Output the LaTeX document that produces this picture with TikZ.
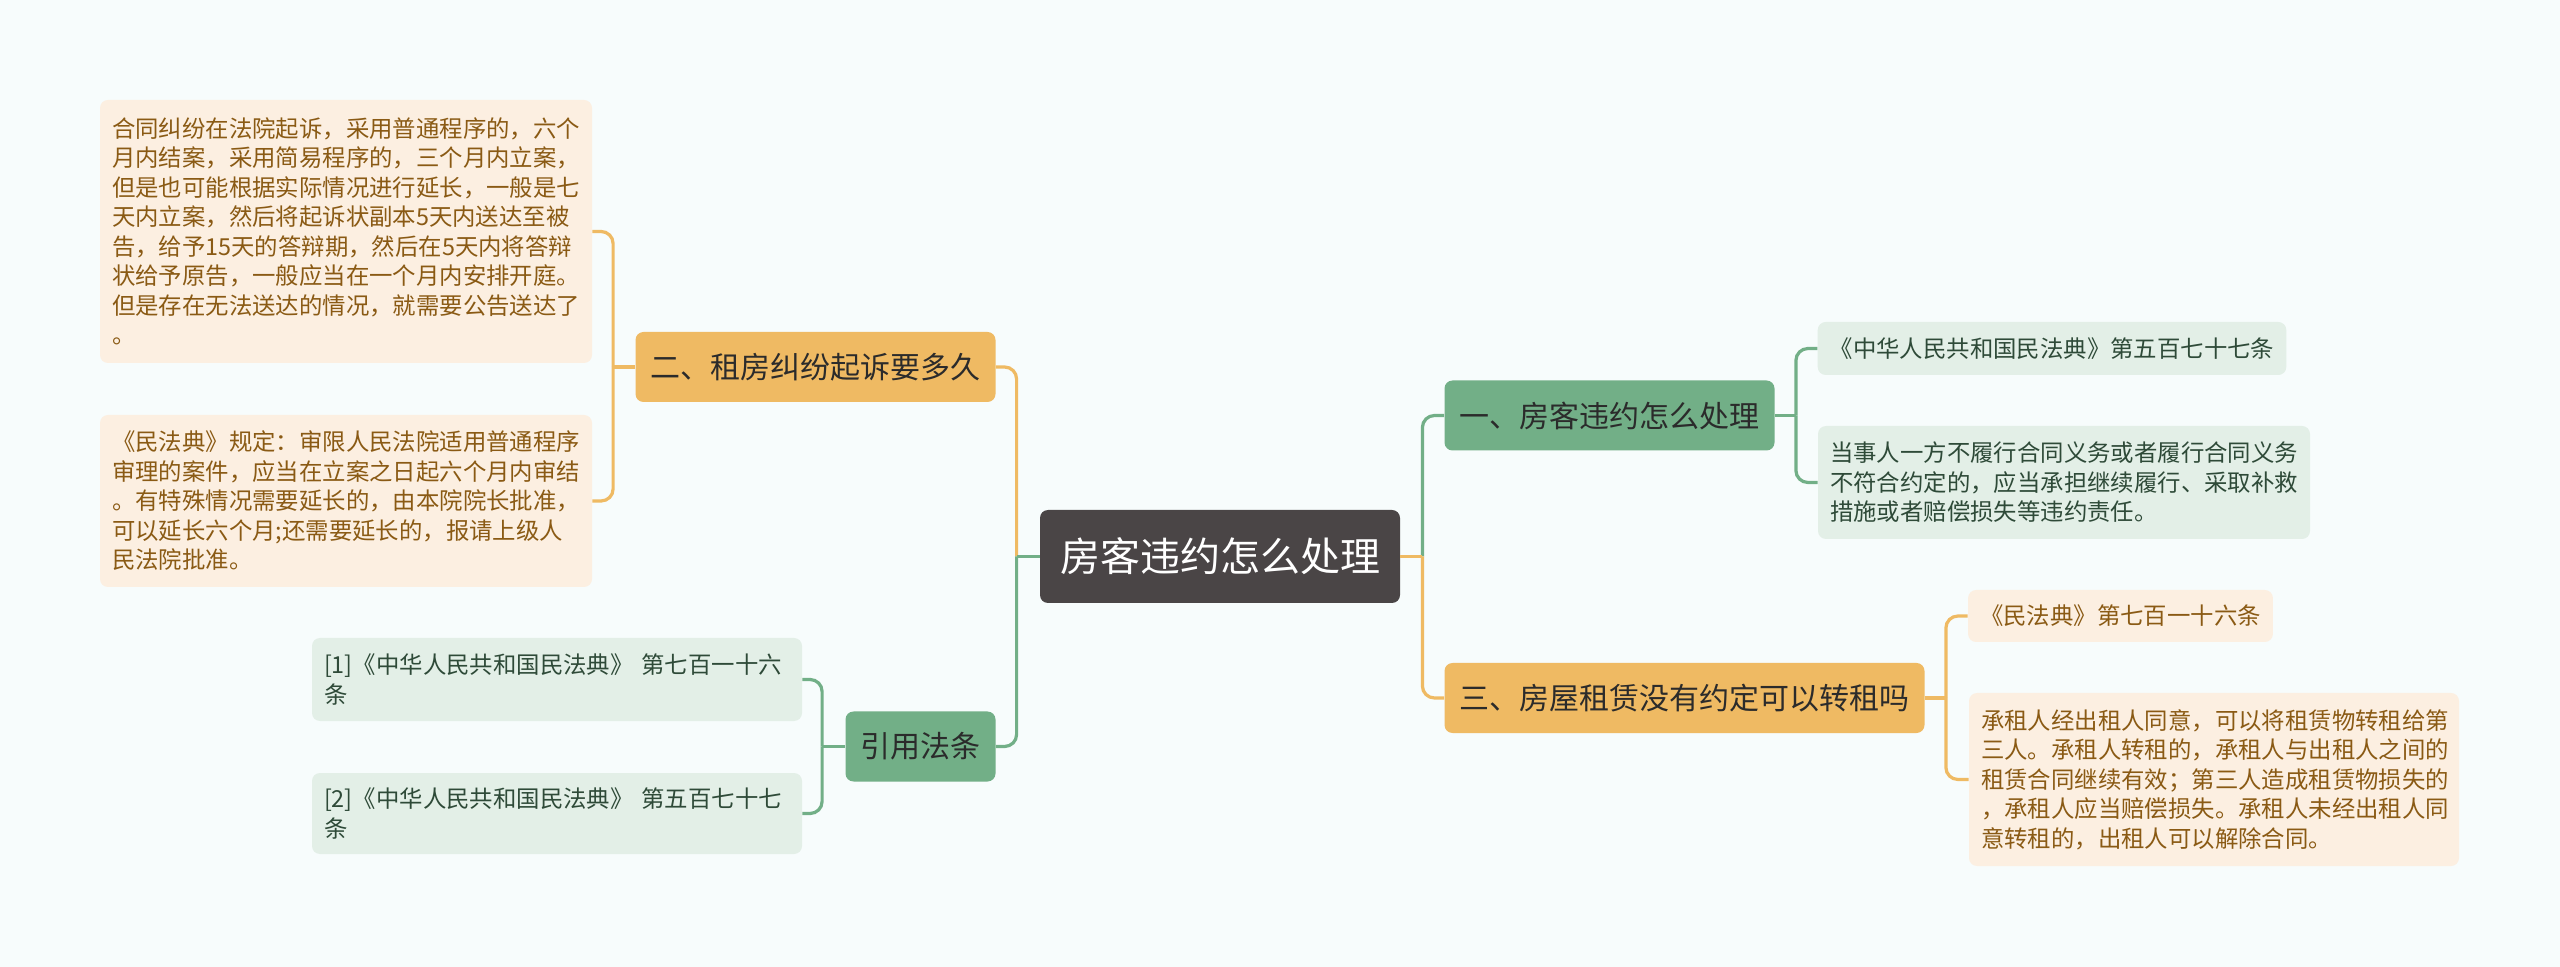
\documentclass[tikz,border=0pt]{standalone}
\usepackage{fontspec}
\setmainfont{Noto Sans CJK SC}
\usepackage{xcolor}
\definecolor{mmbg}{HTML}{F7FCFC}
\definecolor{mmroot}{HTML}{4A4546}
\definecolor{mmdark}{HTML}{2B2B2B}
\definecolor{mmgreen}{HTML}{72AF87}
\definecolor{mmgreenlt}{HTML}{E3EFE7}
\definecolor{mmgreentx}{HTML}{2E4A38}
\definecolor{mmorange}{HTML}{EFBA63}
\definecolor{mmorangelt}{HTML}{FCEFE1}
\definecolor{mmorangetx}{HTML}{8A5A14}
\usepackage{tikz}
\usetikzlibrary{positioning}
\tikzset{
  rootbox/.style={
    fill=mmroot, text=white, rounded corners=4pt,
    minimum height=46.5pt, inner xsep=10pt,
    font=\fontsize{20pt}{24pt}\selectfont
  },
  branchbox/.style={
    fill=#1, text=mmdark, rounded corners=4pt,
    minimum height=35pt, inner xsep=7.5pt,
    font=\fontsize{15pt}{18pt}\selectfont
  },
  leafbox/.style={
    fill=#1, rounded corners=4pt, align=left,
    inner xsep=6pt, inner ysep=4pt,
    font=\fontsize{11.7pt}{14.75pt}\selectfont
  },
  gleaf/.style={leafbox=mmgreenlt, text=mmgreentx},
  oleaf/.style={leafbox=mmorangelt, text=mmorangetx},
  mmlink/.style={draw=#1, line width=1.6pt, rounded corners=6pt}
}

\begin{document}
\begin{tikzpicture}[x=0.5pt, y=-0.5pt]
  \fill[mmbg] (0,0) rectangle (2560,967);
  \useasboundingbox (0,0) rectangle (2560,967);

  \node[rootbox] (root) at (1220,556.5) {房客违约怎么处理};

  \node[branchbox=mmgreen]  (hl1)  at (1609.5,415.5) {一、房客违约怎么处理};
  \node[branchbox=mmorange] (hl2)  at (815.5,367)    {二、租房纠纷起诉要多久};
  \node[branchbox=mmorange] (hl3)  at (1684.5,698)   {三、房屋租赁没有约定可以转租吗};
  \node[branchbox=mmgreen]  (cite) at (920.5,746.5)  {引用法条};

  % branch one
  \node[gleaf, minimum height=26.5pt] (lf1a) at (2052,348.5)
    {《中华人民共和国民法典》第五百七十七条};
  \node[gleaf, text width=234pt, minimum height=56.5pt] (lf1b) at (2064,482.5)
    {当事人一方不履行合同义务或者履行合同义务\\
     不符合约定的，应当承担继续履行、采取补救\\
     措施或者赔偿损失等违约责任。};

  % branch two
  \node[oleaf, text width=234pt, minimum height=131.5pt] (lf2a) at (346,231.5)
    {合同纠纷在法院起诉，采用普通程序的，六个\\
     月内结案，采用简易程序的，三个月内立案，\\
     但是也可能根据实际情况进行延长，一般是七\\
     天内立案，然后将起诉状副本5天内送达至被\\
     告，给予15天的答辩期，然后在5天内将答辩\\
     状给予原告，一般应当在一个月内安排开庭。\\
     但是存在无法送达的情况，就需要公告送达了\\
     。};
  \node[oleaf, text width=234pt, minimum height=86pt] (lf2b) at (346,501)
    {《民法典》规定：审限人民法院适用普通程序\\
     审理的案件，应当在立案之日起六个月内审结\\
     。有特殊情况需要延长的，由本院院长批准，\\
     可以延长六个月;还需要延长的，报请上级人\\
     民法院批准。};

  % branch three
  \node[oleaf, minimum height=26pt] (lf3a) at (2120.5,616)
    {《民法典》第七百一十六条};
  \node[oleaf, text width=233pt, minimum height=86.5pt] (lf3b) at (2214,779.5)
    {承租人经出租人同意，可以将租赁物转租给第\\
     三人。承租人转租的，承租人与出租人之间的\\
     租赁合同继续有效；第三人造成租赁物损失的\\
     ，承租人应当赔偿损失。承租人未经出租人同\\
     意转租的，出租人可以解除合同。};

  % citations
  \node[gleaf, text width=233pt, minimum height=41.5pt] (lf4a) at (557,679.5)
    {[1]《中华人民共和国民法典》~第七百一十六\\条};
  \node[gleaf, text width=233pt, minimum height=40.5pt] (lf4b) at (557,813.5)
    {[2]《中华人民共和国民法典》~第五百七十七\\条};

  % junctions
  \coordinate (jl) at ([xshift=-11.5pt]root.west);
  \coordinate (jr) at ([xshift=11pt]root.east);
  \coordinate (j1) at ([xshift=10.5pt]hl1.east);
  \coordinate (j2) at ([xshift=-11pt]hl2.west);
  \coordinate (j3) at ([xshift=10.5pt]hl3.east);
  \coordinate (j4) at ([xshift=-11.5pt]cite.west);

  \draw[mmlink=mmorange] (jl) |- (hl2.east);
  \draw[mmlink=mmgreen]  (jl) |- (cite.east);
  \draw[mmlink=mmgreen]  (root.west) -- (jl);
  \draw[mmlink=mmgreen]  (jr) |- (hl1.west);
  \draw[mmlink=mmorange] (jr) |- (hl3.west);
  \draw[mmlink=mmorange] (root.east) -- (jr);

  \draw[mmlink=mmgreen] (hl1.east) -- (j1);
  \draw[mmlink=mmgreen] (j1) |- (lf1a.west);
  \draw[mmlink=mmgreen] (j1) |- (lf1b.west);

  \draw[mmlink=mmorange] (hl2.west) -- (j2);
  \draw[mmlink=mmorange] (j2) |- (lf2a.east);
  \draw[mmlink=mmorange] (j2) |- (lf2b.east);

  \draw[mmlink=mmorange] (hl3.east) -- (j3);
  \draw[mmlink=mmorange] (j3) |- (lf3a.west);
  \draw[mmlink=mmorange] (j3) |- (lf3b.west);

  \draw[mmlink=mmgreen] (cite.west) -- (j4);
  \draw[mmlink=mmgreen] (j4) |- (lf4a.east);
  \draw[mmlink=mmgreen] (j4) |- (lf4b.east);
\end{tikzpicture}
\end{document}
